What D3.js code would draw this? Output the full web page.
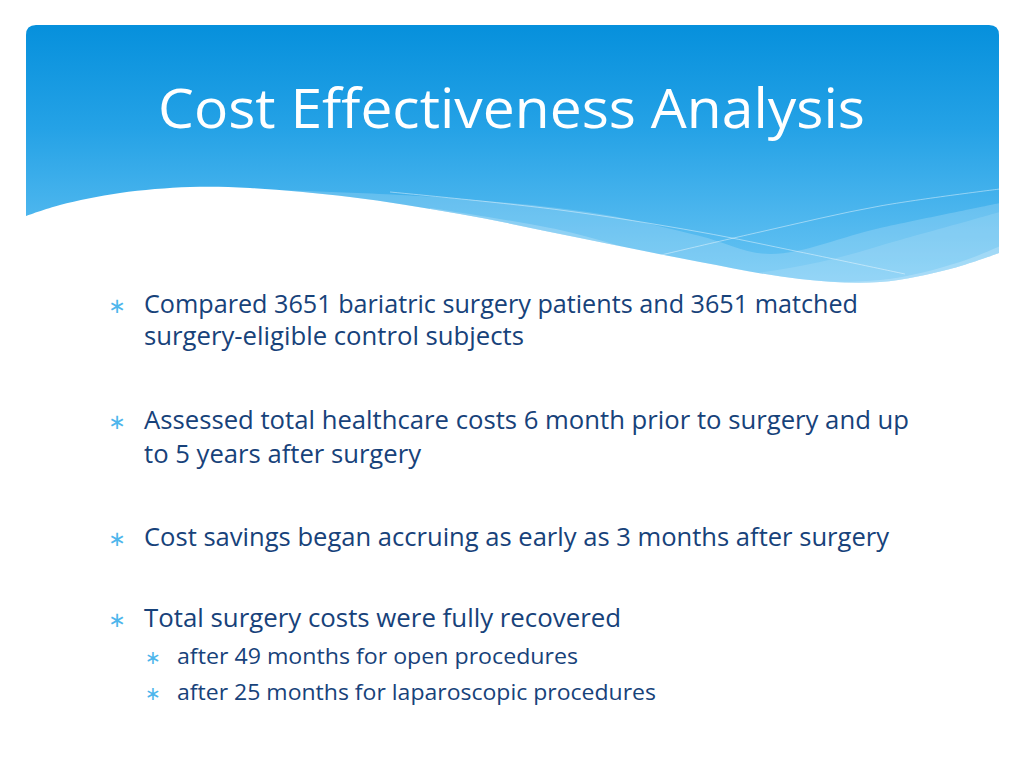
<!DOCTYPE html>
<html><head><meta charset="utf-8">
<script src="https://cdn.jsdelivr.net/npm/d3@7"></script>
<style>html,body{margin:0;padding:0;background:#fff;overflow:hidden}</style>
</head><body>
<svg id="s" width="1024" height="768"></svg>
<script>
const title = "Cost Effectiveness Analysis";
const bulletTexts = [
  "Compared 3651 bariatric surgery patients and 3651 matched",
  "surgery-eligible control subjects",
  "Assessed total healthcare costs 6 month prior to surgery and up",
  "to 5 years after surgery",
  "Cost savings began accruing as early as 3 months after surgery",
  "Total surgery costs were fully recovered",
  "after 49 months for open procedures",
  "after 25 months for laparoscopic procedures"
];
const bulletLevels = [1, 0, 1, 0, 1, 1, 2, 2]; // 1 = new top bullet, 0 = continuation, 2 = sub bullet
const baselines = [313, 345, 429, 463, 546, 627, 664, 700];
const lineWidths = [714, 380, 765, 277, 745, 477, 401, 479];

const svg = d3.select("#s");
const defs = svg.append("defs");
const g = defs.append("linearGradient").attr("id","hg").attr("gradientUnits","userSpaceOnUse").attr("x1",0).attr("y1",25).attr("x2",0).attr("y2",285);
g.append("stop").attr("offset","0%").attr("stop-color","#0690dc");
g.append("stop").attr("offset","40%").attr("stop-color","#25a2e6");
g.append("stop").attr("offset","100%").attr("stop-color","#6cc6f4");

const curve = d3.line().curve(d3.curveCatmullRom.alpha(0.5));
const bottom = [[999,253],[950,269],[880,282],[800,279],[700,262],[580,238],[460,214],[350,197],[250,188],[190,187],[120,193],[60,205],[26,216]];
const L=26,R=999,T=25,r=10;
const hp = `M${L},${T+r} Q${L},${T} ${L+r},${T} L${R-r},${T} Q${R},${T} ${R},${T+r} ` + curve(bottom).replace(/^M/,'L') + ' Z';
defs.append("clipPath").attr("id","hc").append("path").attr("d",hp);
svg.append("path").attr("d",hp).attr("fill","url(#hg)");

const clipG = svg.append("g").attr("clip-path","url(#hc)");
// lighter bands
const bandA = [[280,190],[450,198],[600,214],[700,236],[770,254],[880,228],[1000,203]];
clipG.append("path").attr("d", "M280,320 L280,190 " + curve(bandA).replace(/^M/,'L') + " L1010,203 L1010,320 Z").attr("fill","#fff").attr("opacity",0.18);
const bandB = [[430,208],[560,230],[650,254],[760,277],[880,280],[960,262],[1000,246]];
clipG.append("path").attr("d", "M430,320 " + curve(bandB).replace(/^M/,'L') + " L1010,246 L1010,320 Z").attr("fill","#fff").attr("opacity",0.2);
const bandC = [[600,300],[700,282],[820,262],[900,240],[1000,212]];
clipG.append("path").attr("d", curve(bandC) + " L1010,212 L1010,320 L600,320 Z").attr("fill","#fff").attr("opacity",0.12);
// thin lines
clipG.append("path").attr("d", curve([[390,192],[560,210],[700,232],[800,252],[905,274]])).attr("fill","none").attr("stroke","#fff").attr("stroke-opacity",0.55).attr("stroke-width",0.8);
clipG.append("path").attr("d", curve([[640,260],[760,232],[880,206],[1000,189]])).attr("fill","none").attr("stroke","#fff").attr("stroke-opacity",0.55).attr("stroke-width",0.8);

svg.append("text").attr("x",158).attr("y",128).text(title)
  .attr("font-family","'Open Sans', sans-serif").attr("font-size",54).attr("fill","#fff")
  .attr("textLength",707).attr("lengthAdjust","spacingAndGlyphs");

const rows = svg.append("g").selectAll("g").data(bulletTexts.map((t,i)=>({t,lvl:bulletLevels[i],y:baselines[i],w:lineWidths[i]}))).join("g");
rows.append("text")
  .attr("x",d=>d.lvl===2?177:144).attr("y",d=>d.y).text(d=>d.t)
  .attr("font-family","'Open Sans', sans-serif").attr("font-size",d=>d.lvl===2?22:25.5)
  .attr("fill","#17427a")
  .attr("textLength",d=>d.w).attr("lengthAdjust","spacingAndGlyphs");
rows.filter(d=>d.lvl>0).append("text")
  .attr("x",d=>d.lvl===2?153:117).attr("y",d=>d.y).attr("text-anchor","middle")
  .text("∗").attr("font-family","'DejaVu Sans', sans-serif").attr("font-size",d=>d.lvl===2?19:21)
  .attr("fill","#4db6ec");
</script>
</body></html>
